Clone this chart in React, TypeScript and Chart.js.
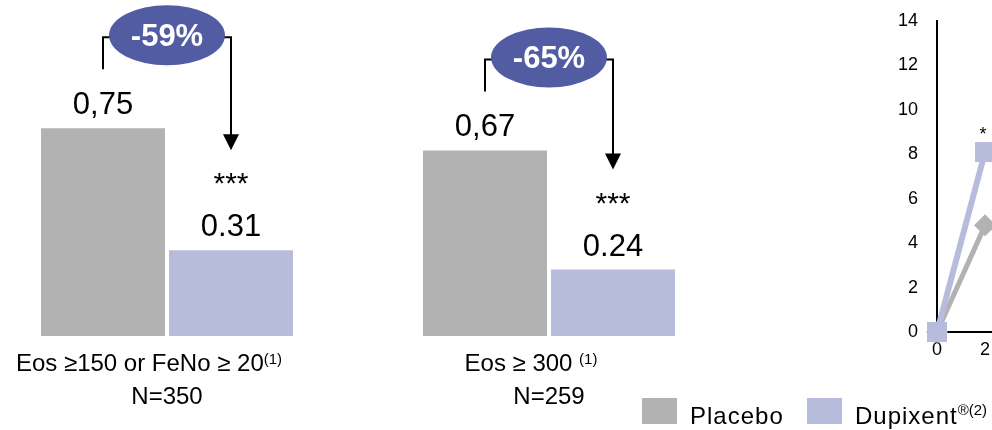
import React, { useEffect, useRef } from "react";
import { Chart, registerables } from "chart.js";

Chart.register(...registerables);

const FONT = "'Liberation Sans', Arial, Helvetica, sans-serif";

// ---- Series ----
const seriesNames = ["Placebo", "Dupixent"];
const seriesSuper = ["", "®(2)"];
const seriesColors = ["#b2b2b2", "#b8bcdc"];
const badgeColor = "#525ca3";

// ---- Panel 1 ----
const panel1Values = [0.75, 0.31];
const panel1ValueLabels = ["0,75", "0.31"];
const panel1Reduction = "-59%";
const panel1Significance = "***";
const panel1Category = "Eos ≥150 or FeNo ≥ 20";
const panel1Footnote = "(1)";
const panel1N = "N=350";

// ---- Panel 2 ----
const panel2Values = [0.67, 0.24];
const panel2ValueLabels = ["0,67", "0.24"];
const panel2Reduction = "-65%";
const panel2Significance = "***";
const panel2Category = "Eos ≥ 300 ";
const panel2Footnote = "(1)";
const panel2N = "N=259";

// ---- Line chart (partially visible) ----
const lineWeeks = [0, 2];
const lineDupixent = [0, 8.1];
const linePlacebo = [0, 4.8];
const lineDupixentSignificance = ["", "*"];
const lineYTicks = [0, 2, 4, 6, 8, 10, 12, 14];
const lineXTicks = [0, 2];

type PanelProps = {
  left: number;
  values: number[];
  valueLabels: string[];
  reduction: string;
  significance: string;
  category: string;
  footnote: string;
  n: string;
};

function BarPanel(props: PanelProps) {
  const ref = useRef<HTMLCanvasElement>(null);
  useEffect(() => {
    const { values, valueLabels, reduction, significance, category, footnote, n } = props;
    const annot = {
      id: "annot",
      afterDatasetsDraw(chart: any) {
        const ctx = chart.ctx as CanvasRenderingContext2D;
        const b0 = chart.getDatasetMeta(0).data[0] as any;
        const b1 = chart.getDatasetMeta(1).data[0] as any;
        const groupX = (b0.x + b1.x) / 2;
        const baseY = chart.chartArea.bottom;
        ctx.save();
        // value labels
        ctx.fillStyle = "#000";
        ctx.textAlign = "center";
        ctx.textBaseline = "alphabetic";
        ctx.font = `31px ${FONT}`;
        ctx.fillText(valueLabels[0], b0.x, b0.y - 14);
        ctx.fillText(valueLabels[1], b1.x, b1.y - 14);
        // significance
        ctx.font = `30px ${FONT}`;
        ctx.fillText(significance, b1.x, b1.y - 57);
        // bracket + arrow
        const bracketY = b0.y - 91;
        const tipY = b1.y - 100;
        ctx.strokeStyle = "#000";
        ctx.lineWidth = 2;
        ctx.beginPath();
        ctx.moveTo(b0.x, b0.y - 59);
        ctx.lineTo(b0.x, bracketY);
        ctx.lineTo(b1.x, bracketY);
        ctx.lineTo(b1.x, tipY - 14);
        ctx.stroke();
        ctx.beginPath();
        ctx.moveTo(b1.x - 8, tipY - 16);
        ctx.lineTo(b1.x + 8, tipY - 16);
        ctx.lineTo(b1.x, tipY);
        ctx.closePath();
        ctx.fillStyle = "#000";
        ctx.fill();
        // badge
        const cy = bracketY - 2;
        ctx.beginPath();
        ctx.ellipse(groupX, cy, 58, 30, 0, 0, Math.PI * 2);
        ctx.fillStyle = badgeColor;
        ctx.fill();
        ctx.fillStyle = "#fff";
        ctx.font = `bold 31px ${FONT}`;
        ctx.fillText(reduction, groupX, cy + 11);
        // category labels
        ctx.fillStyle = "#000";
        ctx.font = `24px ${FONT}`;
        const mainW = ctx.measureText(category).width;
        ctx.font = `15px ${FONT}`;
        const supW = ctx.measureText(footnote).width;
        const startX = groupX - 18 - (mainW + supW) / 2;
        ctx.textAlign = "left";
        ctx.font = `24px ${FONT}`;
        ctx.fillText(category, startX, baseY + 35);
        ctx.font = `15px ${FONT}`;
        ctx.fillText(footnote, startX + mainW, baseY + 28);
        ctx.textAlign = "center";
        ctx.font = `24px ${FONT}`;
        ctx.fillText(n, groupX, baseY + 68);
        ctx.restore();
      },
    };
    const chart = new Chart(ref.current as HTMLCanvasElement, {
      type: "bar",
      data: {
        labels: [category],
        datasets: [
          { label: seriesNames[0], data: [values[0]], backgroundColor: seriesColors[0], borderWidth: 0 },
          { label: seriesNames[1], data: [values[1]], backgroundColor: seriesColors[1], borderWidth: 0 },
        ],
      },
      options: {
        animation: false,
        responsive: false,
        devicePixelRatio: 1,
        events: [],
        layout: { padding: { left: 0, right: 0, top: 0, bottom: 94 } },
        datasets: { bar: { categoryPercentage: 0.7665, barPercentage: 0.96875 } },
        scales: {
          x: { display: false },
          y: { display: false, min: 0, max: 1.213 },
        },
        plugins: { legend: { display: false }, tooltip: { enabled: false } },
      },
      plugins: [annot],
    } as any);
    return () => chart.destroy();
  }, []);
  return (
    <canvas
      ref={ref}
      width={334}
      height={430}
      style={{ position: "absolute", left: props.left, top: 0, width: 334, height: 430 }}
    />
  );
}

function LinePanel() {
  const ref = useRef<HTMLCanvasElement>(null);
  useEffect(() => {
    const stars = {
      id: "stars",
      afterDatasetsDraw(chart: any) {
        const ctx = chart.ctx as CanvasRenderingContext2D;
        const meta = chart.getDatasetMeta(0);
        ctx.save();
        ctx.fillStyle = "#000";
        ctx.font = `18px ${FONT}`;
        ctx.textAlign = "center";
        ctx.textBaseline = "alphabetic";
        meta.data.forEach((pt: any, i: number) => {
          const s = lineDupixentSignificance[i];
          if (s) ctx.fillText(s, pt.x - 2, pt.y - 12);
        });
        ctx.restore();
      },
    };
    const tickFont = { family: FONT, size: 18 };
    const chart = new Chart(ref.current as HTMLCanvasElement, {
      type: "line",
      data: {
        datasets: [
          {
            label: seriesNames[1],
            data: lineWeeks.map((w, i) => ({ x: w, y: lineDupixent[i] })),
            borderColor: seriesColors[1],
            backgroundColor: seriesColors[1],
            borderWidth: 6,
            pointStyle: "rect",
            pointRadius: 14.14,
            pointHoverRadius: 14.14,
            pointBorderWidth: 0,
            pointBackgroundColor: seriesColors[1],
            tension: 0,
            clip: false,
          },
          {
            label: seriesNames[0],
            data: lineWeeks.map((w, i) => ({ x: w, y: linePlacebo[i] })),
            borderColor: seriesColors[0],
            backgroundColor: seriesColors[0],
            borderWidth: 5,
            pointStyle: "rectRot",
            pointRadius: 11,
            pointHoverRadius: 11,
            pointBorderWidth: 0,
            pointBackgroundColor: seriesColors[0],
            tension: 0,
            clip: false,
          },
        ],
      },
      options: {
        animation: false,
        responsive: false,
        devicePixelRatio: 1,
        events: [],
        layout: { autoPadding: false, padding: { top: 21, left: 0, right: 0, bottom: 0 } },
        scales: {
          x: {
            type: "linear",
            min: 0,
            max: 2.29,
            grid: { display: false, drawTicks: false },
            border: { display: true, color: "#000", width: 2 },
            ticks: { font: tickFont, color: "#000", padding: 7, stepSize: 2, maxRotation: 0 },
            afterBuildTicks: (s: any) => {
              s.ticks = lineXTicks.map((v) => ({ value: v }));
            },
            afterFit: (s: any) => {
              s.height = 38;
              s.paddingLeft = 0;
              s.paddingRight = 0;
            },
          },
          y: {
            min: 0,
            max: 14,
            grid: { display: false, drawTicks: false },
            border: { display: true, color: "#000", width: 2 },
            ticks: { font: tickFont, color: "#000", padding: 19, stepSize: 2 },
            afterBuildTicks: (s: any) => {
              s.ticks = lineYTicks.map((v) => ({ value: v }));
            },
            afterFit: (s: any) => {
              s.width = 77;
              s.paddingTop = 0;
              s.paddingBottom = 0;
            },
          },
        },
        plugins: { legend: { display: false }, tooltip: { enabled: false } },
      },
      plugins: [stars],
    } as any);
    return () => chart.destroy();
  }, []);
  return (
    <canvas
      ref={ref}
      width={132}
      height={370}
      style={{ position: "absolute", left: 860, top: 0, width: 132, height: 370 }}
    />
  );
}

function Legend() {
  const items = [
    { swatch: 642, text: 690 },
    { swatch: 807, text: 855 },
  ];
  return (
    <>
      {items.map((it, i) => (
        <React.Fragment key={i}>
          <div
            style={{
              position: "absolute",
              left: it.swatch,
              top: 398,
              width: 35,
              height: 26,
              background: seriesColors[i],
            }}
          />
          <div
            style={{
              position: "absolute",
              left: it.text,
              top: 404,
              font: `24px ${FONT}`,
              lineHeight: "24px",
              letterSpacing: "1px",
              color: "#000",
              whiteSpace: "nowrap",
            }}
          >
            {seriesNames[i]}
            {seriesSuper[i] ? (
              <span style={{ fontSize: 15, letterSpacing: 0, position: "relative", top: -9 }}>
                {seriesSuper[i]}
              </span>
            ) : null}
          </div>
        </React.Fragment>
      ))}
    </>
  );
}

export default function App() {
  return (
    <div
      style={{
        position: "fixed",
        left: 0,
        top: 0,
        width: 992,
        height: 430,
        overflow: "hidden",
        background: "#fff",
      }}
    >
      <BarPanel
        left={0}
        values={panel1Values}
        valueLabels={panel1ValueLabels}
        reduction={panel1Reduction}
        significance={panel1Significance}
        category={panel1Category}
        footnote={panel1Footnote}
        n={panel1N}
      />
      <BarPanel
        left={382}
        values={panel2Values}
        valueLabels={panel2ValueLabels}
        reduction={panel2Reduction}
        significance={panel2Significance}
        category={panel2Category}
        footnote={panel2Footnote}
        n={panel2N}
      />
      <LinePanel />
      <Legend />
    </div>
  );
}
